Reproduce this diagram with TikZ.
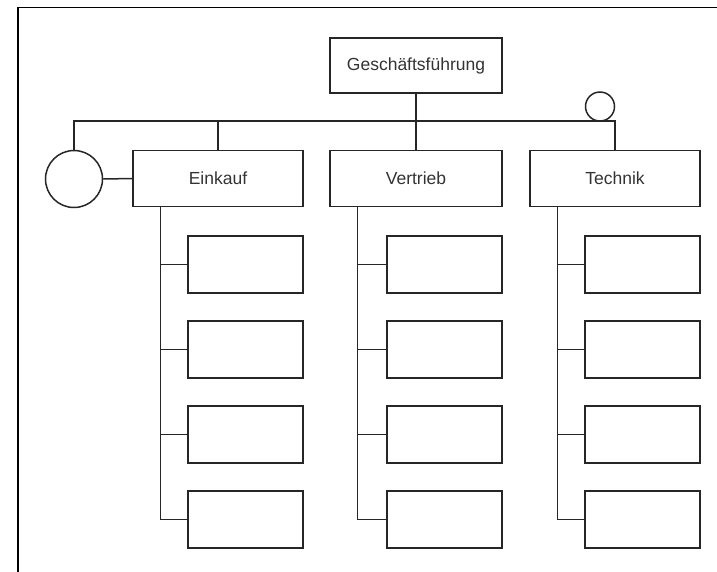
\documentclass[tikz,border=0pt]{standalone}
\usepackage{fontspec}
\setmainfont{Liberation Sans}

\begin{document}
\begin{tikzpicture}[x=1pt,y=-1pt,line width=1.5pt]
\tikzstyle{every node}+=[inner sep=0pt]
\tikzstyle{abt}=[draw=black!85,rectangle,minimum width=171pt,minimum height=56pt,font=\fontsize{17.5}{20}\selectfont,text=black!80]
\tikzstyle{stelle}=[draw=black!85,rectangle,minimum width=115pt,minimum height=57pt]
\tikzstyle{kreis}=[draw=black!85,circle]
\useasboundingbox (0,0) rectangle (717,571);
\draw [black] (18,600) -- (18,7.5) -- (740,7.5);
\node [abt,minimum width=172pt,minimum height=55pt] (gf) at (416,65.5) {Geschäftsführung};
\node [abt,minimum width=170pt] (ein) at (218,178.5) {Einkauf};
\node [abt,minimum width=172pt] (ver) at (416,178.5) {Vertrieb};
\node [abt,minimum width=170pt] (tech) at (615,178.5) {Technik};
\node [kreis,minimum size=57pt] (kreisA) at (74,179) {};
\node [kreis,minimum size=29pt] (kreisB) at (600,106.5) {};
\coordinate (busR) at (615,121);
\draw [black!85] (kreisA.north) |- (busR) -- (tech.north);
\draw [black!85] (ein.north) -- (ein.north |- busR);
\draw [black!85] (gf.south) -- (ver.north);
\draw [black!85] (kreisA.east) -- (ein.west);
\foreach \n in {ein,ver,tech} {
  \foreach \k/\y in {1/264.5,2/349.5,3/434.5,4/519.5}
    \node [stelle,anchor=east] (\n\k) at (\n.east |- 0,\y) {};
  \coordinate (t\n) at ([xshift=28pt]\n.south west);
  \draw [black!85] (t\n) |- (\n4.west);
  \foreach \k in {1,2,3}
    \draw [black!85] (\n\k.west) -- (\n\k.west -| t\n);
}
\end{tikzpicture}
\end{document}
